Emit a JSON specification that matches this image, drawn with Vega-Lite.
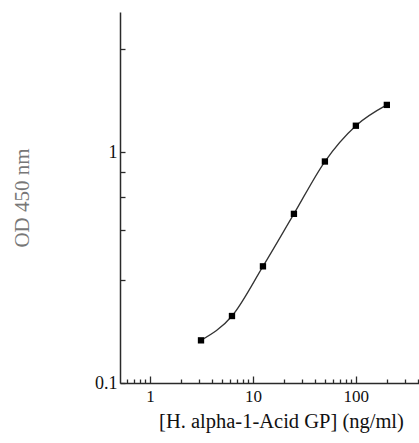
{
  "$schema": "https://vega.github.io/schema/vega-lite/v6.json",
  "width": 300,
  "height": 371,
  "autosize": "none",
  "padding": {"left": 120, "top": 12, "right": 0, "bottom": 60},
  "background": "white",
  "config": {
    "view": {"stroke": null},
    "axis": {
      "grid": false,
      "labelFont": "Liberation Serif",
      "titleFont": "Liberation Serif",
      "domainColor": "#2a2a2a",
      "domainWidth": 1.5,
      "tickColor": "#2a2a2a",
      "tickWidth": 1.3,
      "labelColor": "#111",
      "labelFontSize": 17,
      "titleFontWeight": "normal"
    }
  },
  "data": {
    "values": [
      {"conc": 3.125, "od": 0.153},
      {"conc": 6.25, "od": 0.195},
      {"conc": 12.5, "od": 0.32},
      {"conc": 25, "od": 0.54},
      {"conc": 50, "od": 0.91},
      {"conc": 100, "od": 1.3},
      {"conc": 200, "od": 1.6}
    ]
  },
  "encoding": {
    "x": {
      "field": "conc",
      "type": "quantitative",
      "scale": {"type": "log", "domain": [0.51, 420], "nice": false},
      "axis": {
        "values": [0.6, 0.7, 0.8, 0.9, 1, 2, 3, 4, 5, 6, 7, 8, 9, 10, 20, 30, 40, 50, 60, 70, 80, 90, 100, 200, 300, 400],
        "labelExpr": "datum.value == 1 ? '1' : datum.value == 10 ? '10' : datum.value == 100 ? '100' : ''",
        "tickSize": {"condition": {"test": "datum.value == 1 || datum.value == 10 || datum.value == 100", "value": -7}, "value": -4},
        "labelPadding": 12,
        "labelFlush": false,
        "labelOverlap": false,
        "title": "[H. alpha-1-Acid GP] (ng/ml)",
        "titleFontSize": 20.5,
        "titleColor": "#111",
        "titleX": 161,
        "titlePadding": 4
      }
    },
    "y": {
      "field": "od",
      "type": "quantitative",
      "scale": {"type": "log", "domain": [0.1, 4.04], "nice": false},
      "axis": {
        "values": [0.1, 0.28, 0.46, 0.64, 0.82, 1, 2.8],
        "labelExpr": "datum.value == 1 ? '1' : datum.value == 0.1 ? '0.1' : ''",
        "tickSize": -5,
        "labelPadding": 8,
        "labelFontSize": 18,
        "labelFlush": false,
        "labelOverlap": false,
        "title": "OD 450 nm",
        "titleFontSize": 21,
        "titleColor": "#777",
        "titleX": -98,
        "titleY": 185.5,
        "titleAngle": 270,
        "titleBaseline": "middle",
        "titleAlign": "center"
      }
    }
  },
  "layer": [
    {"mark": {"type": "line", "interpolate": "monotone", "color": "#333", "strokeWidth": 1.3}},
    {"mark": {"type": "square", "size": 40, "color": "black", "opacity": 1}}
  ]
}
